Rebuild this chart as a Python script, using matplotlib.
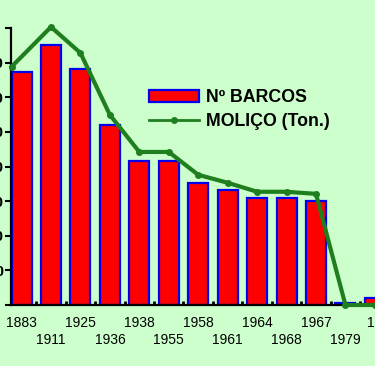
import matplotlib
matplotlib.use("Agg")
import matplotlib.pyplot as plt
from matplotlib.patches import Patch
from matplotlib.lines import Line2D
from matplotlib import font_manager
import numpy as np

years = ["1883", "1911", "1925", "1936", "1938", "1955", "1958", "1961",
         "1964", "1968", "1967", "1979", "19"]
barcos = [67.3, 75.1, 68.2, 52.0, 41.6, 41.6, 35.3, 33.2, 30.9, 30.9, 30.0, 0.6, 2.0]
molico_x = [-0.34, 1, 2, 3, 4, 5, 6, 7, 8, 9, 10, 11, 12]
molico = [68.8, 80.3, 72.8, 54.9, 44.2, 44.2, 37.6, 35.3, 32.7, 32.7, 32.1, 0.0, 0.0]
yticks = [0, 10, 20, 30, 40, 50, 60, 70, 80]
ytick_labels = ["", "10", "20", "30", "40", "50", "60", "70", ""]
legend_labels = ["Nº BARCOS", "MOLIÇO (Ton.)"]

BG = "#ccffcc"
RED = "#ff0000"
BLUE = "#0000ee"
GREEN = "#1f7f1f"

names = {f.name for f in font_manager.fontManager.ttflist}
tick_family = ["Liberation Sans Narrow"] if "Liberation Sans Narrow" in names else ["Liberation Sans"]
tick_size = 11 if "Liberation Sans Narrow" in names else 10

fig = plt.figure(figsize=(3.75, 3.66), dpi=100, facecolor=BG)
ax = fig.add_axes([10.5/375, 61/366, 385/375, 277/366])
ax.set_facecolor(BG)

x = np.arange(len(years))
ax.bar(x, barcos, width=0.68, color=RED, edgecolor=BLUE, linewidth=1.6, zorder=2)
ax.plot(molico_x, molico, color=GREEN, lw=3, marker='o', ms=4, zorder=3, clip_on=False)

ax.set_xlim(-0.375, 12.7)
ax.set_ylim(0, 80)

for s in ["top", "right"]:
    ax.spines[s].set_visible(False)
for s in ["left", "bottom"]:
    ax.spines[s].set_linewidth(1.6)
    ax.spines[s].set_color("black")

ax.set_yticks(yticks)
ax.set_yticklabels(ytick_labels, fontsize=11, fontweight="bold",
                   family=["Liberation Sans", "DejaVu Sans"])
ax.tick_params(axis="y", direction="out", length=4, width=1.5, pad=1)

# boundary ticks (major), even labels (minor)
ax.set_xticks(np.arange(len(years)) + 0.5)
ax.set_xticklabels([])
ax.tick_params(axis="x", which="major", direction="in", length=3, width=2)
ax.set_xticks(x[::2], minor=True)
ax.set_xticklabels(years[::2], minor=True, fontsize=tick_size, family=tick_family)
ax.tick_params(axis="x", which="minor", length=0, pad=8)

# odd labels on a second row
sec = ax.secondary_xaxis("bottom")
sec.spines["bottom"].set_visible(False)
sec.set_xticks(x[1::2])
sec.set_xticklabels(years[1::2], fontsize=tick_size, family=tick_family)
sec.tick_params(axis="x", length=0, pad=20)

handles = [Patch(facecolor=RED, edgecolor=BLUE, linewidth=1.6),
           Line2D([0], [0], color=GREEN, lw=2, marker='o', ms=4)]
fig.legend(handles, legend_labels, loc="upper left",
           bbox_to_anchor=(149/375, 1 - 89/366), frameon=False,
           prop={"family": ["Liberation Sans", "DejaVu Sans"], "weight": "bold", "size": 12.8},
           handlelength=2.8, handleheight=0.65, handletextpad=0.4, labelspacing=0.42,
           borderpad=0, borderaxespad=0)

fig.savefig("out.png", dpi=100, facecolor=BG)
